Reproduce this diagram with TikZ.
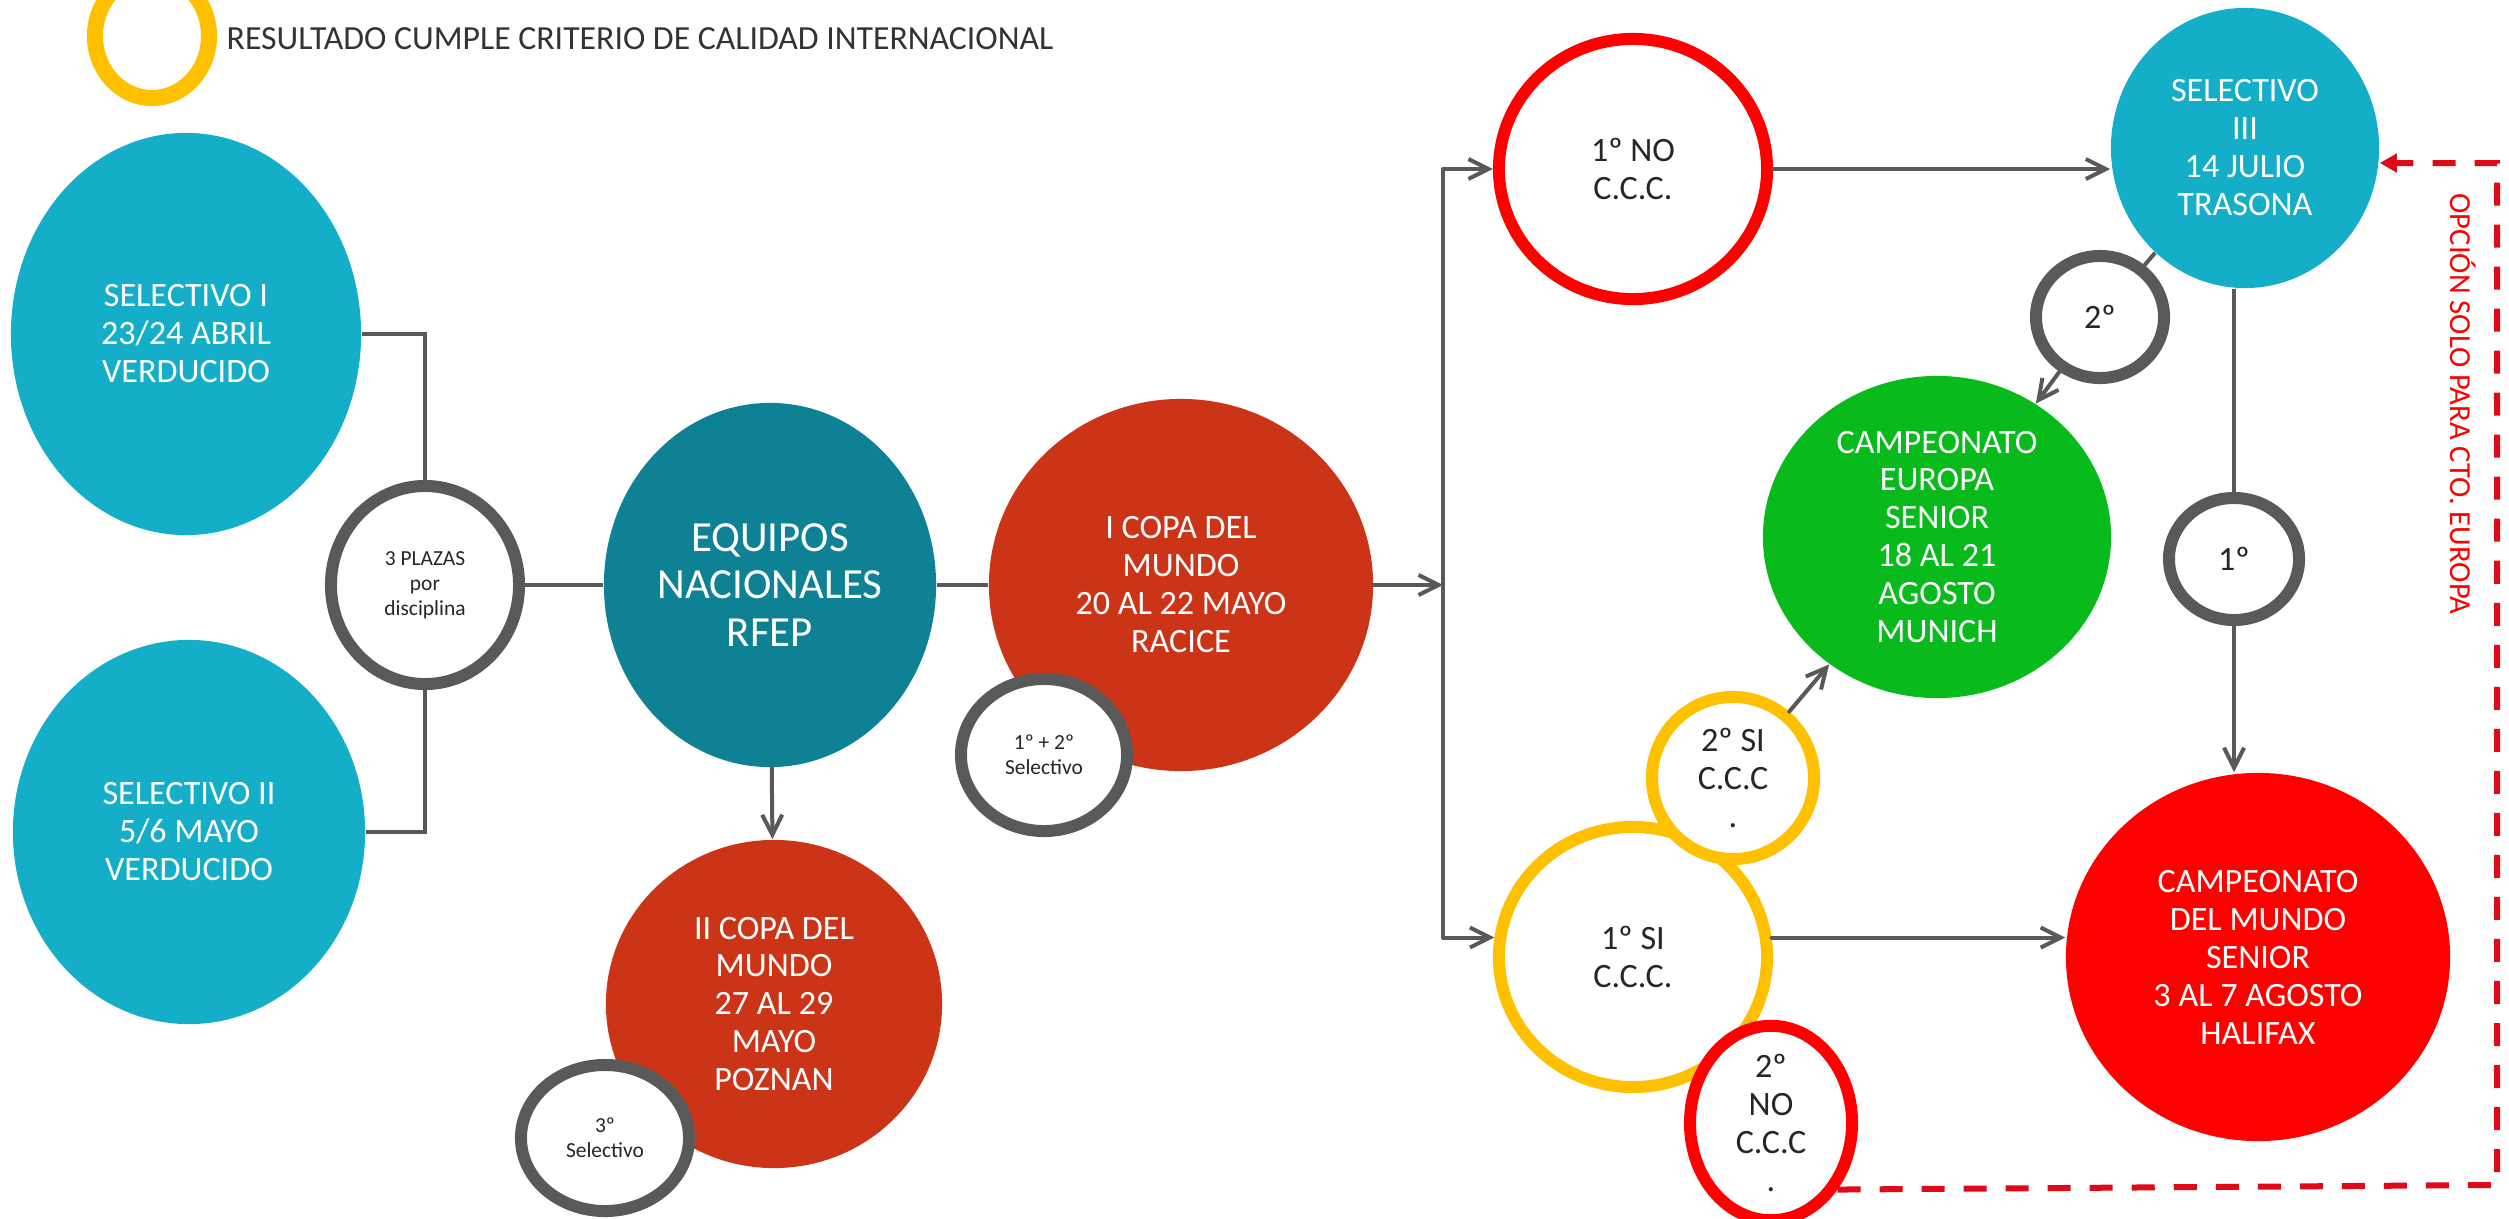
\documentclass[tikz,border=0pt]{standalone}
\usepackage{fontspec}
\setmainfont{Carlito}
\usetikzlibrary{shapes.geometric,arrows.meta}
\definecolor{cyanblue}{RGB}{20,174,200}
\definecolor{tealrfep}{RGB}{14,130,148}
\definecolor{copared}{RGB}{204,52,24}
\definecolor{eurogreen}{RGB}{8,186,28}
\definecolor{purered}{RGB}{255,0,0}
\definecolor{ccyellow}{RGB}{255,192,0}
\definecolor{linegray}{RGB}{89,89,89}
\definecolor{dashred}{RGB}{222,10,24}
\newcommand{\fsnode}{\fontsize{9.7pt}{10.8pt}\selectfont}
\newcommand{\fsbig}{\fontsize{12.2pt}{13.5pt}\selectfont}
\newcommand{\fssmall}{\fontsize{6.1pt}{7.1pt}\selectfont}
\tikzset{dims/.style 2 args={minimum width=#1, minimum height=#2},
  event/.style={ellipse, inner sep=0pt, align=center, text=white, font=\fsnode},
  ring/.style={ellipse, draw=linegray, line width=0.12cm, fill=white, inner sep=0pt, align=center, text=black!85, font=\fsnode},
  conn/.style={draw=linegray, line width=0.04cm},
  arr/.style={conn, line cap=round, -{Straight Barb[length=2mm,width=2mm]}},
  optline/.style={draw=dashred, line width=0.06cm, dash pattern=on 0.23cm off 0.19cm, -{Triangle[length=1.7mm,width=1.8mm]}}}

\begin{document}
\begin{tikzpicture}[x=0.01cm,y=-0.01cm]
   \useasboundingbox (0,0) rectangle (2509,1218);
   \node[ellipse, draw=ccyellow, line width=0.16cm, dims={1.14cm}{1.24cm}] (legendring) at (152,36) {};
   \node[anchor=west, inner sep=0pt, text=black!80, font=\fontsize{9.6pt}{11pt}\selectfont] (legendtext) at (226,39) {RESULTADO CUMPLE CRITERIO DE CALIDAD INTERNACIONAL};

   \node[event, fill=cyanblue, dims={3.50cm}{4.02cm}] (sel1) at (186,334) {SELECTIVO I\\23/24 ABRIL\\VERDUCIDO};
   \node[event, fill=cyanblue, dims={3.52cm}{3.84cm}] (sel2) at (189,832) {SELECTIVO II\\5/6 MAYO\\VERDUCIDO};
   \node[event, fill=tealrfep, dims={3.32cm}{3.64cm}, font=\fsbig] (equipos) at (770,585) {EQUIPOS\\NACIONALES\\RFEP};
   \node[event, fill=copared, dims={3.84cm}{3.72cm}] (copa1) at (1181,585) {I COPA DEL\\MUNDO\\20 AL 22 MAYO\\RACICE};
   \node[event, fill=copared, dims={3.36cm}{3.28cm}] (copa2) at (774,1004) {II COPA DEL\\MUNDO\\27 AL 29\\MAYO\\POZNAN};
   \node[event, fill=cyanblue, dims={2.68cm}{2.80cm}] (sel3) at (2245,148) {SELECTIVO\\III\\14 JULIO\\TRASONA};
   \node[event, fill=eurogreen, dims={3.48cm}{3.22cm}] (europa) at (1937,537) {CAMPEONATO\\EUROPA\\SENIOR\\18 AL 21\\AGOSTO\\MUNICH};
   \node[event, fill=purered, dims={3.84cm}{3.68cm}] (mundial) at (2258,957) {CAMPEONATO\\DEL MUNDO\\SENIOR\\3 AL 7 AGOSTO\\HALIFAX};

   \node[ring, dims={1.88cm}{1.98cm}, font=\fssmall] (plazas) at (425,585) {3 PLAZAS\\por\\disciplina};
   \node[ring, dims={1.66cm}{1.52cm}, font=\fssmall] (sel12) at (1044,755) {1º + 2º\\Selectivo};
   \node[ring, dims={1.68cm}{1.46cm}, font=\fssmall] (sel3rd) at (605,1138) {3º\\Selectivo};
   \node[ring, draw=purered, dims={2.68cm}{2.60cm}] (nocc) at (1633,169) {1º NO\\C.C.C.};
   \node[ring, draw=ccyellow, dims={2.68cm}{2.60cm}] (sicc) at (1633,957) {1º SI\\C.C.C.};
   \node[ring, draw=ccyellow, dims={1.62cm}{1.62cm}] (si2) at (1733,778) {2º SI\\C.C.C\\.};
   \node[ring, draw=purered, dims={1.62cm}{1.62cm}] (no2) at (1771,1123) {2º\\NO\\C.C.C\\.};
   \node[ring, dims={1.28cm}{1.22cm}] (second) at (2100,317) {2º};
   \node[ring, dims={1.30cm}{1.22cm}] (first) at (2234,559) {1º};
   \node[rotate=-90, inner sep=0pt, text=purered, font=\fontsize{8.7pt}{10pt}\selectfont] (optlabel) at (2463,404) {OPCIÓN SOLO PARA CTO. EUROPA};

   \coordinate (split) at (1443,585);
   \coordinate (optlow) at (2497,1185);
   \coordinate (opttop) at (2497,163);
   \draw[conn] (sel1.east) -| (plazas.north);
   \draw[conn] (sel2.east) -| (plazas.south);
   \draw[conn] (plazas) -- (equipos);
   \draw[conn] (equipos) -- (copa1);
   \draw[arr] (equipos) -- (copa2);
   \draw[arr] (copa1) -- (split);
   \draw[conn] (split |- nocc.west) -- (split |- sicc.172);
   \draw[arr] (split |- nocc.west) -- (nocc.west);
   \draw[arr] (split |- sicc.172) -- (sicc.172);
   \draw[arr] (nocc.east) -- (nocc.east -| sel3.west);
   \draw[arr] (sicc.8) -- (sicc.8 -| mundial.west);
   \draw[conn] (sel3) -- (second);
   \draw[arr] (second) -- (europa);
   \draw[conn] (first.north |- sel3.south) -- (first.north);
   \draw[arr] (first.south) -- (first.south |- mundial.north);
   \draw[arr] (si2) -- (europa);
   \draw[optline] (no2.-45) -- (optlow) -- (opttop) -- (opttop -| sel3.east);
\end{tikzpicture}
\end{document}
